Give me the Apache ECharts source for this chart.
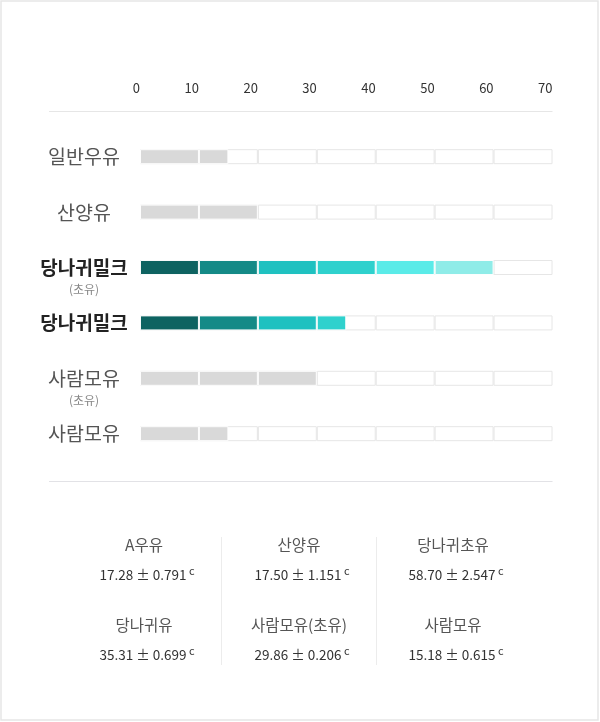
<!DOCTYPE html>
<html><head><meta charset="utf-8">
<script src="https://cdn.jsdelivr.net/npm/echarts@6/dist/echarts.min.js"></script>
<style>html,body{margin:0;padding:0;background:#fff}#c{width:600px;height:722px}</style>
</head><body><div id="c"></div>
<script>
// ---- data ----
const categories = ['일반우유', '산양유', '당나귀밀크', '당나귀밀크', '사람모유', '사람모유'];
const subLabels = ['', '', '(초유)', '', '(초유)', ''];
const barValues = [15, 20, 60, 35, 30, 15];
const highlighted = [false, false, true, true, false, false];
const xTicks = [0, 10, 20, 30, 40, 50, 60, 70];
const statNames = ['A우유', '산양유', '당나귀초유', '당나귀유', '사람모유(초유)', '사람모유'];
const statMeans = [17.28, 17.50, 58.70, 35.31, 29.86, 15.18];
const statSDs = [0.791, 1.151, 2.547, 0.699, 0.206, 0.615];
const statLetters = ['c', 'c', 'c', 'c', 'c', 'c'];

// ---- styling ----
const FONT = '"Noto Sans CJK KR", "Noto Sans", sans-serif';
const STEP = xTicks[1] - xTicks[0];
const SEGMENTS = xTicks.length - 1;
const tealShades = ['#0e6361', '#148a87', '#1fc1c0', '#2fd1cd', '#5aebe8', '#8fece8', '#b8f5f2'];
const GRAY = '#d9d9d9';

const series = [];
for (let i = 0; i < SEGMENTS; i++) {
  series.push({
    type: 'bar', stack: 'track', barWidth: 15, barGap: '-100%', silent: true,
    data: categories.map(() => STEP),
    itemStyle: { color: '#fff', borderColor: '#e6e6e6', borderWidth: 1 }
  });
}
for (let i = 0; i < SEGMENTS; i++) {
  series.push({
    type: 'bar', stack: 'fill', barWidth: 15, barGap: '-100%',
    data: barValues.map((v, r) => {
      const s = Math.min(STEP, v - STEP * i);
      return s > 0 ? { value: s, itemStyle: { color: highlighted[r] ? tealShades[i] : GRAY } } : '-';
    }),
    itemStyle: { borderColor: 'rgba(255,255,255,0.95)', borderWidth: 1 }
  });
}

const colX = [144, 299, 453];
const rowY = [545, 625];
const graphics = [
  { type: 'rect', shape: { x: 1, y: 1, width: 597, height: 719 }, style: { fill: 'none', stroke: '#e6e6e6', lineWidth: 1.5 }, silent: true },
  { type: 'line', shape: { x1: 49, y1: 111.5, x2: 552.5, y2: 111.5 }, style: { stroke: '#e6e6e6', lineWidth: 1 }, silent: true },
  { type: 'line', shape: { x1: 49, y1: 481.5, x2: 552.5, y2: 481.5 }, style: { stroke: '#e2e2e6', lineWidth: 1.2 }, silent: true },
  { type: 'line', shape: { x1: 221.5, y1: 537, x2: 221.5, y2: 665 }, style: { stroke: '#ececec', lineWidth: 1 }, silent: true },
  { type: 'line', shape: { x1: 376.5, y1: 537, x2: 376.5, y2: 665 }, style: { stroke: '#ececec', lineWidth: 1 }, silent: true }
];
statNames.forEach((name, k) => {
  const x = colX[k % 3], y = rowY[Math.floor(k / 3)];
  graphics.push({
    type: 'text', silent: true,
    style: { text: name, x: x, y: y, align: 'center', verticalAlign: 'middle', fontSize: 15.5, fontFamily: FONT, fill: '#555' }
  });
  graphics.push({
    type: 'text', silent: true,
    style: {
      text: '{v|' + statMeans[k].toFixed(2) + ' ± ' + statSDs[k].toFixed(3) + '}{s| ' + statLetters[k] + '}',
      x: x + 3, y: y + 30, align: 'center', verticalAlign: 'middle',
      rich: {
        v: { fontSize: 13.5, fontFamily: FONT, fill: '#333', lineHeight: 20 },
        s: { fontSize: 11, fontFamily: FONT, fill: '#333', verticalAlign: 'top', lineHeight: 10 }
      }
    }
  });
});

const chart = echarts.init(document.getElementById('c'));
chart.setOption({
  backgroundColor: '#fff',
  animation: false,
  grid: { left: 140, right: 47.5, top: 129, height: 332.4 },
  xAxis: {
    type: 'value', position: 'top', min: xTicks[0], max: xTicks[xTicks.length - 1], interval: STEP,
    axisLine: { show: false }, axisTick: { show: false }, splitLine: { show: false },
    axisLabel: { align: 'right', margin: 34, fontSize: 13, color: '#333', fontFamily: FONT }
  },
  yAxis: {
    type: 'category', data: categories, inverse: true,
    axisLine: { show: false }, axisTick: { show: false },
    axisLabel: {
      margin: 56, align: 'center',
      formatter: (v, i) => {
        const key = highlighted[i] ? 'mb' : 'm';
        return subLabels[i] ? '{gap| }\n{' + key + '|' + v + '}\n{sub|' + subLabels[i] + '}' : '{' + key + '|' + v + '}';
      },
      rich: {
        gap: { fontSize: 12, lineHeight: 20 },
        m: { fontSize: 19.5, color: '#555', lineHeight: 24, fontFamily: FONT },
        mb: { fontSize: 19, color: '#222', fontWeight: 'bold', lineHeight: 24, fontFamily: FONT },
        sub: { fontSize: 12, color: '#888', lineHeight: 20, fontFamily: FONT }
      }
    }
  },
  graphic: graphics,
  series: series
});
</script>
</body></html>
